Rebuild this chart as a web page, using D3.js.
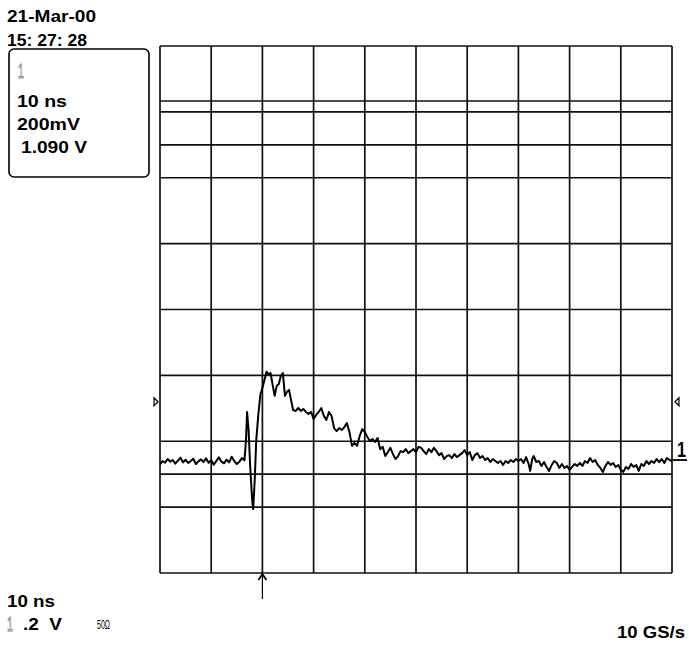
<!DOCTYPE html>
<html><head><meta charset="utf-8">
<script src="https://cdn.jsdelivr.net/npm/d3@7/dist/d3.min.js"></script>
<style>
html,body{margin:0;padding:0;background:#fff;}
svg{display:block;font-family:"Liberation Sans",Arial,sans-serif;}
</style></head>
<body>
<script>
// ---- data ----
const dateLabel = "21-Mar-00";
const timeLabel = "15: 27: 28";
const infoLines = ["10 ns", "200mV", "1.090 V"];
const timeDomain = [0, 100];          // ns (10 ns/div, 10 div)
const voltDomain = [0.29, 1.89];      // V (200 mV/div, 8 div, centre 1.090 V)
const timeGrid = [0,10,20,30,40,50,60,70,80,90,100];
const voltGrid = [0.29,0.49,0.59,0.69,0.89,1.09,1.29,1.49,1.59,1.69,1.723,1.89];
const triggerTime = 20;
const sideTriangleVolt = 0.81;
const channelGroundVolt = 0.633;
const bottomLabels = {timebase: "10 ns", scale: ".2  V", imp: "50Ω", rate: "10 GS/s"};

const traceTime = [
 0,0.5,1,1.5,2,2.5,3,3.5,4,4.5,5,5.5,6,6.5,7,7.5,8,8.5,9,9.5,10,10.5,11,11.5,12,12.5,13,13.5,14,14.5,15,15.5,16,16.5,
 16.8,17.0,17.3,17.6,18.0,18.2,18.5,18.8,19.2,19.6,20.0,20.4,20.8,21.2,21.6,22.0,22.4,22.8,23.2,23.6,24.0,24.4,24.8,25.2,25.6,26.0,
 26.5,27,27.5,28,28.5,29,29.5,30,30.5,31,31.5,32,32.5,33,33.5,34,34.5,35,35.5,36,36.5,37,37.5,38,38.5,39,39.5,40,
 40.5,41,41.5,42,42.5,43,43.5,44,44.5,45,45.5,46,46.5,47,47.5,48,48.5,49,49.5,50,50.5,51,51.5,52,52.5,53,53.5,54,
 54.5,55,55.5,56,56.5,57,57.5,58,58.5,59,59.5,60,60.5,61,61.5,62,62.5,63,63.5,64,64.5,65,65.5,66,66.5,67,67.5,68,
 68.5,69,69.5,70,70.5,71,71.5,72,72.3,72.7,73,73.5,74,74.5,75,75.5,76,76.5,77,77.5,78,78.5,79,79.5,80,80.5,81,81.5,
 82,82.5,83,83.5,84,84.5,85,85.5,86,86.5,87,87.5,88,88.5,89,89.5,90,90.5,91,91.5,92,92.5,93,93.5,94,94.5,95,95.5,
 96,96.5,97,97.5,98,98.5,99,99.5,100];
const traceVolt = [
 0.620,0.630,0.625,0.636,0.628,0.633,0.622,0.631,0.640,0.626,0.634,0.624,0.630,0.637,0.621,0.629,0.635,0.627,0.638,0.625,0.632,0.619,0.630,0.641,0.628,0.623,0.634,0.626,0.643,0.630,0.621,0.628,0.639,0.632,
 0.694,0.779,0.724,0.618,0.511,0.484,0.572,0.694,0.770,0.831,0.852,0.876,0.901,0.894,0.897,0.861,0.828,0.858,0.864,0.888,0.897,0.828,0.840,0.846,0.815,0.785,
 0.782,0.791,0.782,0.788,0.779,0.773,0.779,0.758,0.770,0.779,0.791,0.767,0.755,0.779,0.767,0.730,0.721,0.730,0.724,0.733,0.745,0.718,0.676,0.685,0.676,0.706,0.727,0.718,
 0.703,0.691,0.697,0.688,0.700,0.666,0.673,0.645,0.657,0.670,0.651,0.636,0.645,0.660,0.657,0.666,0.654,0.660,0.666,0.657,0.673,0.670,0.660,0.651,0.666,0.657,0.670,0.660,
 0.648,0.654,0.636,0.645,0.648,0.639,0.651,0.642,0.648,0.654,0.663,0.648,0.657,0.633,0.648,0.654,0.639,0.645,0.633,0.639,0.627,0.636,0.630,0.624,0.630,0.618,0.630,0.624,
 0.633,0.627,0.636,0.630,0.636,0.624,0.642,0.621,0.600,0.636,0.645,0.627,0.630,0.615,0.627,0.612,0.600,0.618,0.630,0.624,0.609,0.621,0.609,0.615,0.603,0.612,0.621,0.615,
 0.624,0.615,0.630,0.624,0.639,0.627,0.633,0.618,0.609,0.597,0.615,0.627,0.618,0.624,0.612,0.618,0.603,0.597,0.612,0.606,0.621,0.612,0.618,0.600,0.621,0.615,0.630,0.621,
 0.630,0.624,0.636,0.627,0.636,0.624,0.639,0.633,0.630];

// ---- layout ----
const W = 689, H = 645;
const plot = {left: 160, right: 672, top: 46, bottom: 573};
const NARROW = "Liberation Sans Narrow, Liberation Sans, sans-serif";

const svg = d3.select("body").append("svg").attr("width", W).attr("height", H);
const x = d3.scaleLinear().domain(timeDomain).range([plot.left, plot.right]);
const y = d3.scaleLinear().domain(voltDomain).range([plot.bottom, plot.top]);

// grid
const g = svg.append("g");
g.selectAll("line.v").data(timeGrid).join("line")
  .attr("x1", d => x(d)).attr("x2", d => x(d))
  .attr("y1", plot.top).attr("y2", plot.bottom)
  .attr("stroke", "#111").attr("stroke-width", 1.7);
g.selectAll("line.h").data(voltGrid).join("line")
  .attr("x1", plot.left).attr("x2", plot.right)
  .attr("y1", d => y(d)).attr("y2", d => y(d))
  .attr("stroke", "#111").attr("stroke-width", 1.7);

// trace
const pts = traceTime.map((t, i) => [t, traceVolt[i]]);
svg.append("path").datum(pts)
  .attr("fill", "none").attr("stroke", "#000").attr("stroke-width", 2)
  .attr("stroke-linejoin", "round")
  .attr("d", d3.line().x(d => x(d[0])).y(d => y(d[1])));

// side triangles
const ty = y(sideTriangleVolt);
svg.append("path").attr("d", `M${plot.left-6},${ty-4} L${plot.left-2},${ty} L${plot.left-6},${ty+4} Z`)
  .attr("fill", "#fff").attr("stroke", "#000").attr("stroke-width", 1.2);
svg.append("path").attr("d", `M${plot.right+7},${ty-4} L${plot.right+3},${ty} L${plot.right+7},${ty+4} Z`)
  .attr("fill", "#fff").attr("stroke", "#000").attr("stroke-width", 1.2);

// channel 1 ground marker
const gy = y(channelGroundVolt);
svg.append("text").attr("x", plot.right + 5).attr("y", gy - 3)
  .attr("font-size", 22).attr("font-weight", "bold").attr("font-family", NARROW)
  .attr("textLength", 9).attr("lengthAdjust", "spacingAndGlyphs")
  .text("1");
svg.append("line").attr("x1", plot.right + 1).attr("x2", plot.right + 15)
  .attr("y1", gy).attr("y2", gy).attr("stroke", "#000").attr("stroke-width", 1.8);

// trigger arrow
const tx = x(triggerTime);
svg.append("line").attr("x1", tx).attr("x2", tx).attr("y1", plot.bottom + 2).attr("y2", plot.bottom + 26)
  .attr("stroke", "#000").attr("stroke-width", 1.2);
svg.append("path").attr("d", `M${tx-4},${plot.bottom+7} L${tx},${plot.bottom+1} L${tx+4},${plot.bottom+7}`)
  .attr("fill", "none").attr("stroke", "#000").attr("stroke-width", 1.8);

// text helper: bold, stretched to the measured width
function label(xp, yp, s, len, anchor) {
  const t = svg.append("text").attr("x", xp).attr("y", yp)
    .attr("font-weight", "bold").attr("font-size", 16).attr("fill", "#000")
    .style("white-space", "pre").text(s);
  if (len) t.attr("textLength", len).attr("lengthAdjust", "spacingAndGlyphs");
  if (anchor) t.attr("text-anchor", anchor);
  return t;
}
function hollowOne(xp, yp) {
  svg.append("text").attr("x", xp).attr("y", yp).attr("font-size", 21)
    .attr("font-family", NARROW).attr("textLength", 6).attr("lengthAdjust", "spacingAndGlyphs")
    .attr("fill", "#fff").attr("stroke", "#8a8a8a").attr("stroke-width", 1).text("1");
}

label(7, 22, dateLabel, 89);
label(7, 46, timeLabel, 80);

// info box
svg.append("rect").attr("x", 9).attr("y", 49).attr("width", 140).attr("height", 128)
  .attr("rx", 5).attr("ry", 5).attr("fill", "#fff").attr("stroke", "#000").attr("stroke-width", 1.6);
hollowOne(18, 78);
const infoX = [17, 17, 21], infoLen = [50, 63, 66], infoY = [107, 130, 153];
infoLines.forEach((s, i) => label(infoX[i], infoY[i], s, infoLen[i]));

// bottom texts
label(7, 607, bottomLabels.timebase, 48);
hollowOne(7, 631);
label(23, 630, bottomLabels.scale, 39);
svg.append("text").attr("x", 97).attr("y", 629).attr("font-size", 12)
  .attr("font-family", NARROW).attr("textLength", 13).attr("lengthAdjust", "spacingAndGlyphs")
  .attr("fill", "#000").text(bottomLabels.imp);
label(617, 638, bottomLabels.rate, 68);
</script>
</body></html>
